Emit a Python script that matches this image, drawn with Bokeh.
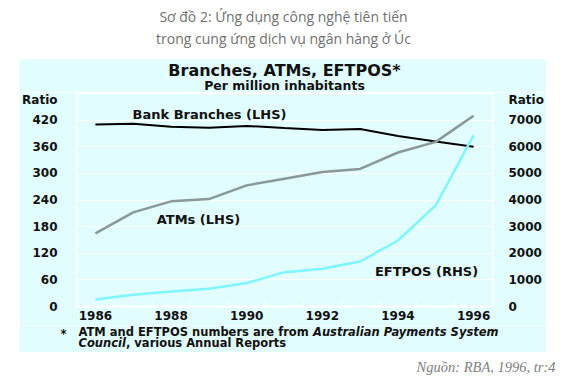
from bokeh.plotting import figure
from bokeh.models import Range1d, LinearAxis, FixedTicker, Label, Spacer, ColumnDataSource
from bokeh.layouts import column, row
from bokeh.embed import file_html
from bokeh.resources import INLINE

# ---------------- data ----------------
years = [1986, 1987, 1988, 1989, 1990, 1991, 1992, 1993, 1994, 1995, 1996]
branches = [410, 412, 405, 403, 407, 402, 398, 400, 384, 372, 360]       # LHS
atms = [165, 212, 237, 242, 273, 288, 303, 310, 347, 371, 430]            # LHS
eftpos = [260, 440, 565, 665, 880, 1290, 1420, 1690, 2480, 3800, 6430]    # RHS

left_ticks = [0, 60, 120, 180, 240, 300, 360, 420]
right_ticks = [0, 1000, 2000, 3000, 4000, 5000, 6000, 7000]
year_ticks = [1986, 1988, 1990, 1992, 1994, 1996]
year_bounds = [1986.5, 1987.5, 1988.5, 1989.5, 1990.5, 1991.5, 1992.5, 1993.5, 1994.5, 1995.5]
axis_unit = "Ratio"

page_title = ["Sơ đồ 2: Ứng dụng công nghệ tiên tiến", "trong cung ứng dịch vụ ngân hàng ở Úc"]
chart_title = "Branches, ATMs, EFTPOS*"
chart_subtitle = "Per million inhabitants"
series_labels = ["Bank Branches (LHS)", "ATMs (LHS)", "EFTPOS (RHS)"]
foot_normal_1 = "ATM and EFTPOS numbers are from"
foot_italic_1 = "Australian Payments System"
foot_italic_2 = "Council"
foot_normal_2 = ", various Annual Reports"
source_text = "Nguồn: RBA, 1996, tr:4"

BG = "#e1fdfd"
FONT = "DejaVu Sans"
INK = "#111111"

# unit label sits just under the top of the frame, placed as an extra tick
UNIT_LEFT = 469
UNIT_RIGHT = UNIT_LEFT * 8000 / 480


def blank(width, height, bg):
    f = figure(width=width, height=height, x_range=Range1d(0, 1), y_range=Range1d(0, 1),
               x_axis_type=None, y_axis_type=None, toolbar_location=None,
               output_backend="svg", min_border=0, outline_line_color=None,
               background_fill_color=bg, border_fill_color=bg)
    return f


def put(fig, x, y, text, size, font=FONT, style="bold", align="center",
        baseline="middle", color=INK):
    fig.add_layout(Label(x=x, y=y, x_units="screen", y_units="screen", text=text,
                         text_align=align, text_baseline=baseline, text_font=font,
                         text_font_size=size, text_font_style=style, text_color=color))


# ---------------- page title (white) ----------------
head = blank(565, 59, "white")
put(head, 283, 43, page_title[0], "14px", font="Open Sans", style="normal", color="#707070")
put(head, 283, 21, page_title[1], "14px", font="Open Sans", style="normal", color="#707070")

# ---------------- chart heading strip (cyan) ----------------
top = blank(527, 33, BG)
put(top, 265, 22.5, chart_title, "16px")
put(top, 265, 7.5, chart_subtitle, "12.5px")

# ---------------- main chart ----------------
src = ColumnDataSource(dict(year=years, branches=branches, atms=atms, eftpos=eftpos))

p = figure(width=527, height=233, x_range=Range1d(1985.5, 1996.5), y_range=Range1d(0, 480),
           toolbar_location=None, output_backend="svg",
           background_fill_color=BG, border_fill_color=BG,
           min_border_left=55, min_border_right=54, min_border_top=1, min_border_bottom=19,
           outline_line_color="white", outline_line_width=1.5)
p.extra_y_ranges = {"right": Range1d(0, 8000)}

xa = p.xaxis[0]
xa.ticker = FixedTicker(ticks=year_ticks, minor_ticks=year_bounds)
xa.axis_line_color = "white"
xa.axis_line_width = 1.5
xa.major_tick_line_color = None
xa.minor_tick_line_color = "white"
xa.minor_tick_line_width = 1.5
xa.minor_tick_in = 6
xa.minor_tick_out = 0
xa.major_label_standoff = -2

ya = p.yaxis[0]
ya.ticker = FixedTicker(ticks=left_ticks + [UNIT_LEFT])
ya.major_label_overrides = {UNIT_LEFT: axis_unit}
ya.major_label_standoff = 13

yr = LinearAxis(y_range_name="right", ticker=FixedTicker(ticks=right_ticks + [UNIT_RIGHT]))
yr.major_label_overrides = {UNIT_RIGHT: axis_unit}
yr.major_label_standoff = 10
p.add_layout(yr, "right")

for ax in (ya, yr):
    ax.axis_line_color = None
    ax.major_tick_line_color = None
    ax.minor_tick_line_color = None
for ax in (xa, ya, yr):
    ax.major_label_text_font = FONT
    ax.major_label_text_font_size = "12px"
    ax.major_label_text_font_style = "bold"
    ax.major_label_text_color = INK

p.xgrid.visible = False
p.ygrid.ticker = FixedTicker(ticks=left_ticks)
p.ygrid.grid_line_color = "white"
p.ygrid.grid_line_width = 1.2

p.line("year", "branches", source=src, line_color="black", line_width=2)
p.line("year", "atms", source=src, line_color="#8a9898", line_width=2.5)
p.line("year", "eftpos", source=src, line_color="#7ff5ff", line_width=2.5, y_range_name="right")

put(p, 133, 192, series_labels[0], "13px")
put(p, 122, 87, series_labels[1], "13px")
put(p, 350, 35, series_labels[2], "13px")

# ---------------- footnote strip (cyan) ----------------
bot = blank(527, 27, BG)
put(bot, 44, 19, "*", "11.5px")
put(bot, 59, 20.5, foot_normal_1, "11.5px", align="left")
put(bot, 293.5, 20.5, foot_italic_1, "11.5px", style="bold italic", align="left")
put(bot, 59, 10, foot_italic_2, "11.5px", style="bold italic", align="left")
put(bot, 106.5, 10, foot_normal_2, "11.5px", align="left")

# ---------------- source (white) ----------------
foot = blank(565, 30, "white")
put(foot, 555, 16, source_text, "14.5px", font="Liberation Serif", style="italic",
    align="right", baseline="alphabetic", color="#808080")

layout = column(head,
                row(Spacer(width=19, height=33), top),
                row(Spacer(width=19, height=233), p),
                row(Spacer(width=19, height=27), bot),
                foot)

open("out.html", "w").write(file_html(layout, INLINE))
